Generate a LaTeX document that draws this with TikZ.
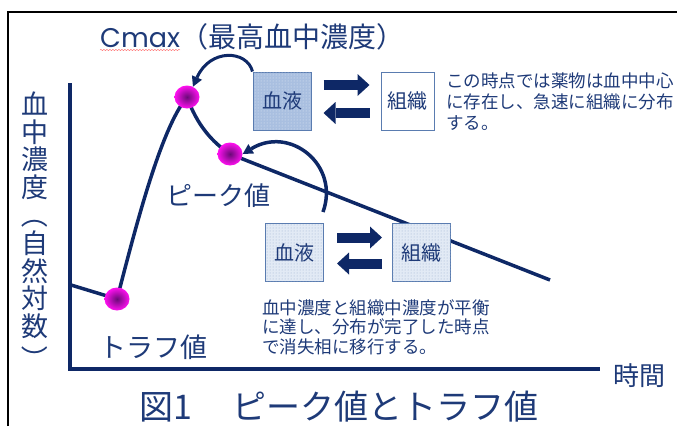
\documentclass[tikz,border=0pt]{standalone}
\usepackage{fontspec}
\setmainfont{Noto Sans CJK JP}
\newfontfamily\pop{Poppins}
\usetikzlibrary{arrows.meta,shapes.geometric,decorations.pathmorphing,patterns}
\definecolor{navy}{HTML}{0E2866}
\definecolor{txt}{HTML}{1E3A78}
\definecolor{boxline}{HTML}{5A7CB0}
\definecolor{bloodfill}{HTML}{A9BFE0}
\definecolor{lightfill}{HTML}{E2EAF5}
\definecolor{dotin}{HTML}{6A0A78}
\definecolor{dotout}{HTML}{FF10F0}
\begin{document}
\begin{tikzpicture}[x=1pt,y=-1pt,
  every node/.style={text=txt, inner sep=0pt},
  frameline/.style={black, line width=1.5pt},
  axisline/.style={navy, line width=3.5pt},
  curveline/.style={navy, line width=3.5pt, line join=round},
  dotnode/.style={ellipse, minimum width=25pt, minimum height=23pt, shading=radial, inner color=dotin, outer color=dotout},
  cbox/.style={draw=boxline, line width=1pt, minimum width=58pt, minimum height=58pt, font=\fontsize{20}{20}\selectfont},
  blockarrow/.style={navy, line width=10pt, -{Triangle[width=22pt,length=12pt,line width=0pt]}},
  bendarrow/.style={navy, line width=3pt, -{Triangle[width=11pt,length=10pt,line width=0pt]}},
  ytext/.style={font=\fontsize{27}{27.5}\selectfont, align=center},
  yparen/.style={font=\fontsize{27}{27}\selectfont, rotate=-90},
]
\useasboundingbox (0,0) rectangle (677,426);

% frame
\coordinate (fbl) at (8,426);
\coordinate (ftl) at (8,12);
\coordinate (ftr) at (677,12);
\draw[frameline] (fbl) -- (ftl) -- (ftr);

% axes
\coordinate (ytop) at (70,83);
\coordinate (org) at (70,369);
\coordinate (xend) at (600,369);
\draw[axisline] (ytop) -- (org) -- (xend);

% curve
\coordinate (c0) at (71,285);
\coordinate (trc) at (117,299);
\coordinate (cmc) at (187,97);
\coordinate (pkc) at (230,154);
\coordinate (c9) at (550,280);
\draw[curveline] (c0) -- (trc) .. controls (135,230) and (160,130) .. (cmc)
  .. controls (197,125) and (212,142) .. (pkc) -- (c9);

% boxes
\node[cbox, fill=bloodfill, postaction={pattern=dots, pattern color=white!70!bloodfill}] (b1) at (282,101) {血液};
\node[cbox, fill=white, minimum width=53pt] (t1) at (407.5,101) {組織};
\node[cbox, fill=lightfill, postaction={pattern=dots, pattern color=boxline!60}] (b2) at (294.5,252.5) {血液};
\node[cbox, fill=lightfill, postaction={pattern=dots, pattern color=boxline!60}] (t2) at (421.5,252.5) {組織};

% block arrows
\draw[blockarrow, shorten <=12pt, shorten >=11pt] ([yshift=16pt]b1.east) -- ([yshift=16pt]t1.west);
\draw[blockarrow, shorten <=11pt, shorten >=12pt] ([yshift=-12pt]t1.west) -- ([yshift=-12pt]b1.east);
\draw[blockarrow, shorten <=13pt, shorten >=10pt] ([yshift=15pt]b2.east) -- ([yshift=15pt]t2.west);
\draw[blockarrow, shorten <=10pt, shorten >=13pt] ([yshift=-11pt]t2.west) -- ([yshift=-11pt]b2.east);

% dots
\node[dotnode] (tr) at (trc) {};
\node[dotnode] (cm) at (cmc) {};
\node[dotnode] (pk) at (pkc) {};

% bent arrows
\draw[bendarrow] (b1.north west) .. controls (247,50) and (210,48) .. (cm.60);
\coordinate (a2s) at (323,212);
\draw[bendarrow, line width=3.5pt] (a2s) .. controls (340,165) and (290,125) .. (pk.east);

% texts
\node[anchor=base west, font=\fontsize{28}{28}\selectfont] (cmax) at (100,47) {{\pop\fontsize{27}{27}\selectfont Cmax}（最高血中濃度）};
\draw[red!60, line width=0.4pt, decorate, decoration={snake, amplitude=0.6pt, segment length=3pt}] ([yshift=-3pt]cmax.base west) -- ++(80,0);
\node[ytext] (ylabA) at (35,145.5) {血\\中\\濃\\度};
\node[yparen] (ylp) at (35,215) {（};
\node[ytext] (ylabB) at (35,284.5) {自\\然\\対\\数};
\node[yparen] (yrp) at (35,359) {）};
\node[anchor=west, font=\fontsize{26}{26}\selectfont] (peaklab) at (166,196) {ピーク値};
\node[anchor=west, font=\fontsize{27}{27}\selectfont] (troughlab) at (99,347) {トラフ値};
\node[anchor=west, font=\fontsize{26}{26}\selectfont] (timelab) at (613,376) {時間};
\node[anchor=west, align=left, font=\fontsize{17.5}{21}\selectfont] (desc1) at (446,102) {この時点では薬物は血中中心\\に存在し、急速に組織に分布\\する。};
\node[anchor=west, align=left, font=\fontsize{17.5}{19.5}\selectfont] (desc2) at (262,327) {血中濃度と組織中濃度が平衡\\に達し、分布が完了した時点\\で消失相に移行する。};
\node[anchor=west, font=\fontsize{34}{34}\selectfont] (figtitle) at (139,407) {図1\hspace{40pt}ピーク値とトラフ値};
\end{tikzpicture}
\end{document}
